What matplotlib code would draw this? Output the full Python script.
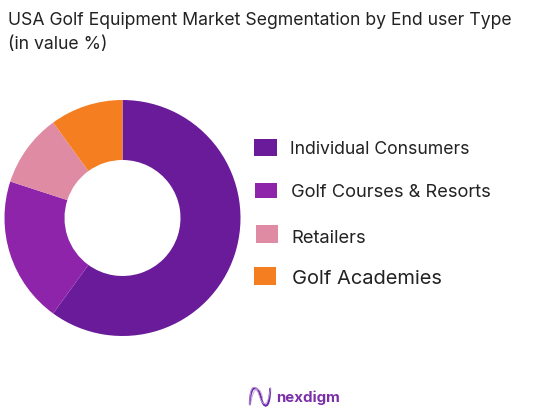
import numpy as np
import matplotlib
matplotlib.use("Agg")
import matplotlib.pyplot as plt
from matplotlib.patches import Rectangle, PathPatch
from matplotlib.path import Path

W, H = 557, 419
categories = ["Individual Consumers", "Golf Courses & Resorts", "Retailers", "Golf Academies"]
values = [60, 20, 10, 10]
colors = ["#6a1b9a", "#8e24aa", "#de8ba3", "#f57f20"]
title_lines = ["USA Golf Equipment Market Segmentation by End user Type", "(in value %)"]
legend_y = [149.5, 192.5, 238.5, 279]
legend_text_x = [290, 291, 291.5, 291.5]
legend_size = [12.7, 13.15, 13.2, 14.45]
swatch_x = [254, 255, 255.5, 254]
swatch_w = [23, 22, 22, 22]
swatch_h = [17, 15, 18, 18]
swatch_y = [148, 191, 234.5, 276]

plt.rcParams["font.family"] = ["Inter", "DejaVu Sans"]
fig = plt.figure(figsize=(W / 100, H / 100), dpi=100, facecolor="white")

def fx(x): return x / W
def fy(y): return 1 - y / H

cx, cy, R = 122.5, 218, 118
ax = fig.add_axes([fx(cx - R), fy(cy + R), 2 * R / W, 2 * R / H])
ax.pie(values, colors=colors, startangle=90, counterclock=False, radius=1,
       wedgeprops=dict(width=1 - 58 / 118, linewidth=0))
ax.set_xlim(-1, 1); ax.set_ylim(-1, 1)
ax.set_aspect("equal")

fig.text(fx(8), fy(20.5), title_lines[0], fontsize=12.7, color="#222222", va="center", ha="left")
fig.text(fx(8), fy(44.5), title_lines[1], fontsize=12.7, color="#222222", va="center", ha="left")

for i, lab in enumerate(categories):
    fig.patches.append(Rectangle((fx(swatch_x[i]), fy(swatch_y[i] + swatch_h[i] / 2)),
                                 swatch_w[i] / W, swatch_h[i] / H, transform=fig.transFigure,
                                 facecolor=colors[i], edgecolor="none"))
    fig.text(fx(legend_text_x[i]), fy(legend_y[i]), lab, fontsize=legend_size[i],
             color="#222222", va="center", ha="left")

# logo: N-shaped ribbon mark and wordmark
logo = fig.add_axes([fx(249), fy(408), 22 / W, 22 / H]); logo.axis("off")
logo.set_xlim(0, 1); logo.set_ylim(0, 1)
codes = [Path.MOVETO, Path.CURVE4, Path.CURVE4, Path.CURVE4]
curves = [([(0.04, 0.15), (0.05, 1.25), (0.45, 0.95), (0.55, 0.45)], 1.5, "#6a2ca8"),
          ([(0.55, 0.45), (0.65, 0.0), (0.95, -0.15), (0.96, 0.9)], 1.5, "#6a2ca8"),
          ([(0.04, 0.1), (0.0, 1.1), (0.3, 1.15), (0.45, 0.6)], 0.6, "#c4a0dc"),
          ([(0.45, 0.6), (0.6, 0.1), (0.85, -0.1), (0.98, 0.95)], 0.6, "#c4a0dc"),
          ([(0.08, 0.2), (0.2, 1.1), (0.55, 1.0), (0.62, 0.4)], 0.6, "#c4a0dc")]
for verts, lw, c in curves:
    logo.add_patch(PathPatch(Path(verts, codes), fill=False, edgecolor=c, lw=lw, clip_on=False))
fig.text(fx(276.5), fy(398), "nexdigm", fontsize=10.8, fontweight="bold", color="#7b2fa8", va="center", ha="left")

fig.savefig("out.png", dpi=100)
